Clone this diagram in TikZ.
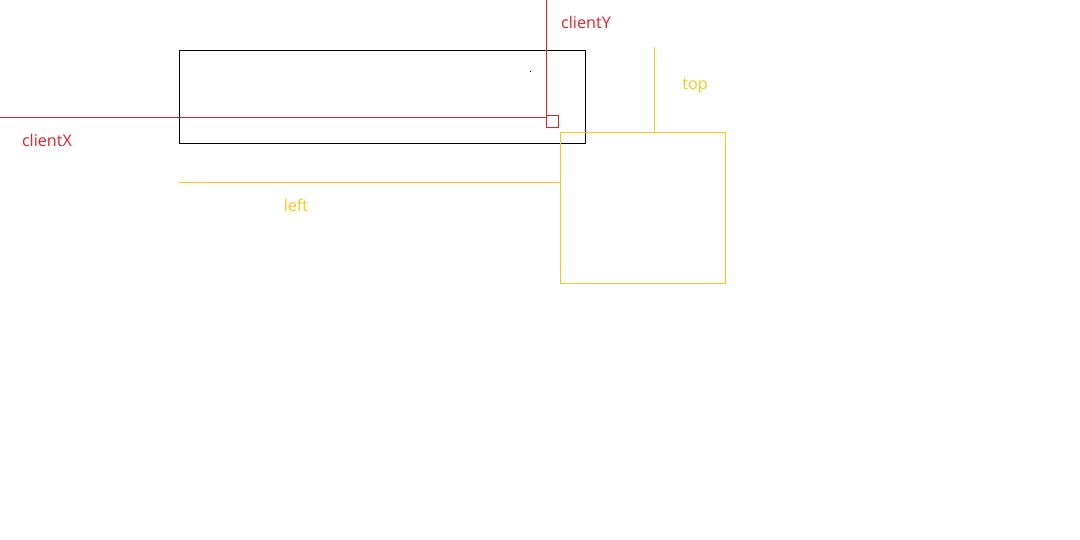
\documentclass[tikz,border=0pt]{standalone}
\usepackage{fontspec}
\setmainfont{Open Sans}
\definecolor{clientred}{RGB}{232,32,40}
\definecolor{offsetyellow}{RGB}{255,200,20}
\tikzset{
  guide/.style={line width=0.7pt},
  label/.style={font=\fontsize{11.5}{13}\selectfont, inner sep=0pt}
}

\begin{document}
\begin{tikzpicture}[x=0.025cm, y=-0.025cm]
    % Canvas
    \useasboundingbox (0,0) rectangle (1080,540);

    % Parent box
    \node[draw, guide, minimum width=406*0.025cm, minimum height=93*0.025cm, inner sep=0pt, anchor=north west] (parent) at (179,50) {};
    \fill (530,71) rectangle (531,72);

    % Mouse point
    \node[draw=clientred, guide, minimum size=12*0.025cm, inner sep=0pt, anchor=north west] (cursor) at (546,115) {};
    \coordinate (topedge) at (546,0);
    \coordinate (leftedge) at (0,117);
    \draw[clientred, guide] (topedge) -- (cursor.north west);
    \draw[clientred, guide] (leftedge) -- (cursor.west |- leftedge);
    \node[label, text=clientred] (clientx) at (47,140) {clientX};
    \node[label, text=clientred] (clienty) at (586,22) {clientY};

    % Popup box
    \node[draw=offsetyellow, guide, minimum width=165*0.025cm, minimum height=151*0.025cm, inner sep=0pt, anchor=north west] (popup) at (560,132) {};
    \coordinate (topstart) at (654,47);
    \coordinate (leftstart) at (179,182);
    \draw[offsetyellow, guide] (topstart) -- (topstart |- popup.north);
    \draw[offsetyellow, guide] (leftstart) -- (leftstart -| popup.west);
    \node[label, text=offsetyellow] (toplabel) at (695,86) {top};
    \node[label, text=offsetyellow] (leftlabel) at (296,205) {left};

\end{tikzpicture}
\end{document}
